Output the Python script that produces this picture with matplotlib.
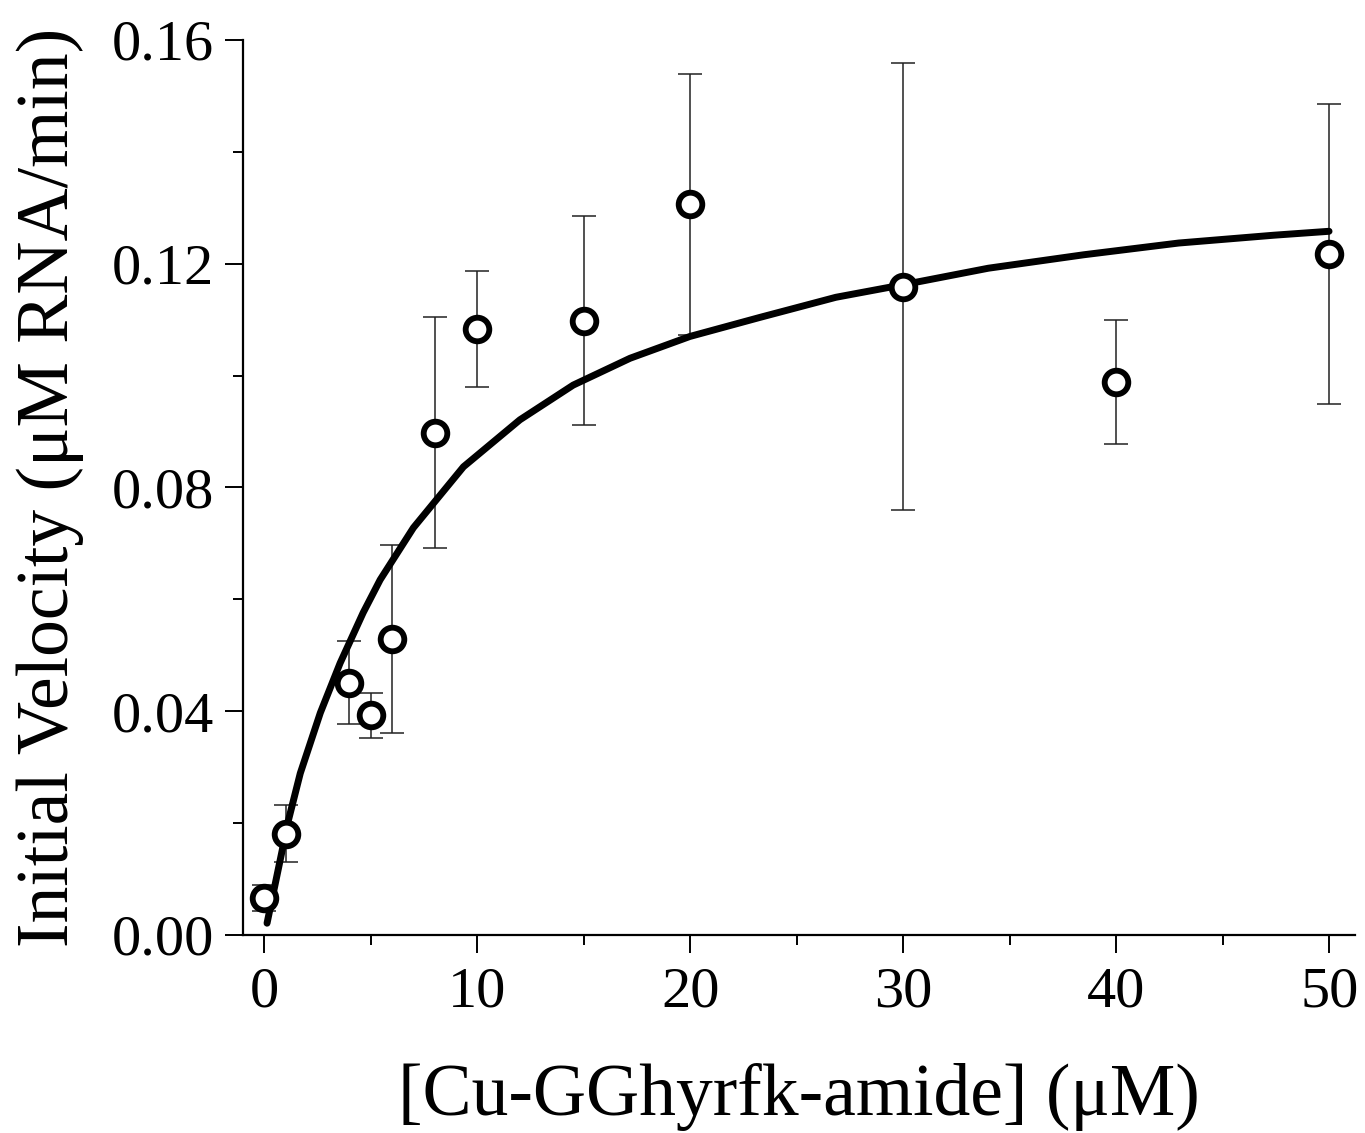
import numpy as np
import matplotlib
matplotlib.use("Agg")
import matplotlib.pyplot as plt
from matplotlib.ticker import MultipleLocator

plt.rcParams['font.family'] = ['Liberation Serif', 'DejaVu Serif']

# measured initial velocities
conc = [0, 1, 4, 5, 6, 8, 10, 15, 20, 30, 40, 50]
velocity = [0.0066, 0.0181, 0.0451, 0.0393, 0.0529, 0.0898, 0.1083, 0.1098, 0.1306, 0.1159, 0.0989, 0.1217]
velocity_err = [0.0024, 0.0051, 0.0074, 0.0040, 0.0168, 0.0206, 0.0104, 0.0187, 0.0233, 0.0400, 0.0111, 0.0268]

# fitted curve
fit_x = [0.13, 1.14, 1.69, 2.63, 3.56, 4.64, 5.44, 7.0, 9.35, 12.0, 14.5, 17.17, 19.98,
         23.26, 26.83, 30.06, 33.99, 38.46, 42.92, 47.39, 49.98]
fit_y = [0.0021, 0.0206, 0.0289, 0.0397, 0.0486, 0.0576, 0.0635, 0.0728, 0.0837, 0.0921, 0.0983,
         0.1031, 0.1070, 0.1104, 0.1140, 0.1163, 0.1192, 0.1216, 0.1237, 0.1251, 0.1258]

fig = plt.figure(figsize=(13.65, 11.33), dpi=100)
ax = fig.add_axes([0.178, 0.1748, 0.8147, 0.7899])

ax.errorbar(conc, velocity, yerr=velocity_err, fmt='none', ecolor='#222222',
            elinewidth=1.1, capsize=8.5, capthick=1.1, zorder=1)
ax.plot(fit_x, fit_y, color='black', linewidth=5, solid_capstyle='round',
        solid_joinstyle='round', zorder=2)
ax.plot(conc, velocity, 'o', markersize=17, markerfacecolor='white',
        markeredgecolor='black', markeredgewidth=4.2, zorder=3)

ax.set_xlim(-1, 51.2)
ax.set_ylim(0, 0.16)
ax.xaxis.set_major_locator(MultipleLocator(10))
ax.xaxis.set_minor_locator(MultipleLocator(5))
ax.yaxis.set_major_locator(MultipleLocator(0.04))
ax.yaxis.set_minor_locator(MultipleLocator(0.02))
ax.yaxis.set_major_formatter(plt.FormatStrFormatter('%.2f'))

for side in ['top', 'right']:
    ax.spines[side].set_visible(False)
for side in ['left', 'bottom']:
    ax.spines[side].set_linewidth(1.6)

ax.tick_params(which='major', direction='out', length=13, width=1.4, labelsize=42)
ax.tick_params(which='minor', direction='out', length=7, width=1.4)
ax.tick_params(axis='x', which='major', pad=10)
ax.tick_params(axis='y', which='major', pad=8)

ax.set_xlabel('[Cu-GGhyrfk-amide] (μM)', fontsize=53, labelpad=32)
ax.set_ylabel('Initial Velocity (μM RNA/min)', fontsize=53, labelpad=20)

fig.savefig('out.png', dpi=100)
